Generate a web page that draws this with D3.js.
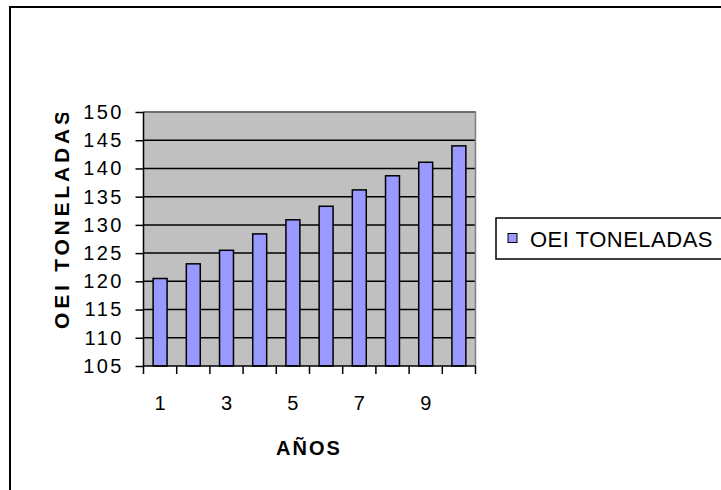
<!DOCTYPE html>
<html>
<head>
<meta charset="utf-8">
<script src="https://cdn.jsdelivr.net/npm/d3@7"></script>
<style>
html,body{margin:0;padding:0;background:#fff;}
svg{display:block;font-family:"Liberation Sans",Arial,sans-serif;}
</style>
</head>
<body>
<svg id="c" width="721" height="490"></svg>
<script>
const categories = [1,2,3,4,5,6,7,8,9,10];
const values = [120.5,123.1,125.5,128.4,130.9,133.3,136.2,138.7,141.1,144.0];
const yTicks = [105,110,115,120,125,130,135,140,145,150];
const xTickLabels = ["1","","3","","5","","7","","9",""];
const seriesName = "OEI TONELADAS";
const xTitle = "AÑOS";
const yTitle = "OEI TONELADAS";

const svg = d3.select("#c");
const L = 143.5, R = 475.5, T = 112, B = 366;

// outer frame
svg.append("rect").attr("x",10).attr("y",7).attr("width",730).attr("height",500)
  .attr("fill","#fff").attr("stroke","#000").attr("stroke-width",2);

const x = d3.scaleBand().domain(categories).range([L,R]).paddingInner(0.58).paddingOuter(0.29);
const xb = d3.scaleBand().domain(categories).range([L,R]);
const y = d3.scaleLinear().domain([105,150]).range([B,T]);

// plot background
svg.append("rect").attr("x",L).attr("y",T).attr("width",R-L).attr("height",B-T)
  .attr("fill","#C0C0C0");

// gridlines
svg.append("g").selectAll("line").data(yTicks.slice(1)).join("line")
  .attr("x1",L).attr("x2",R).attr("y1",d=>y(d)).attr("y2",d=>y(d))
  .attr("stroke","#000").attr("stroke-width",1.5);

// top/right border grey
svg.append("path").attr("d",`M${L},${T}H${R}V${B}`).attr("fill","none")
  .attr("stroke","#808080").attr("stroke-width",1.5);

// bars
svg.append("g").selectAll("rect").data(values).join("rect")
  .attr("x",(d,i)=>x(categories[i])).attr("width",x.bandwidth())
  .attr("y",d=>y(d)).attr("height",d=>B-y(d))
  .attr("fill","#9999FF").attr("stroke","#000").attr("stroke-width",1.5);

// y axis
const yAxis = d3.axisLeft(y).tickValues(yTicks).tickSize(8).tickPadding(14).tickFormat(d3.format("d"));
const gy = svg.append("g").attr("transform",`translate(${L},0)`).call(yAxis);
gy.select(".domain").attr("stroke","#000").attr("stroke-width",1.5).attr("d",`M0,${B}V${T}`);
gy.selectAll(".tick line").attr("stroke","#000").attr("stroke-width",1.5);
gy.selectAll(".tick text").attr("font-size",20).attr("fill","#000")
  .attr("font-family","Liberation Sans, Arial, sans-serif").attr("letter-spacing","2.5px").attr("dx","2.5px");

// x axis
const gx = svg.append("g").attr("transform",`translate(0,${B})`);
gx.append("line").attr("x1",L).attr("x2",R).attr("stroke","#000").attr("stroke-width",1.5);
const bounds = categories.map(c=>xb(c)).concat([R]);
gx.selectAll("line.t").data(bounds).join("line").attr("class","t")
  .attr("x1",d=>d).attr("x2",d=>d).attr("y1",0).attr("y2",8)
  .attr("stroke","#000").attr("stroke-width",1.5);
gx.selectAll("text").data(categories).join("text")
  .attr("x",d=>xb(d)+xb.bandwidth()/2).attr("y",44)
  .attr("text-anchor","middle").attr("font-size",20).attr("fill","#000")
  .text((d,i)=>xTickLabels[i]);

// x title
svg.append("text").attr("x",309).attr("y",455).attr("text-anchor","middle")
  .attr("font-size",20).attr("font-weight","bold").attr("letter-spacing","2px").text(xTitle);

// y title (clipped at top)
svg.append("clipPath").attr("id","yc").append("rect").attr("x",30).attr("y",113).attr("width",60).attr("height",300);
svg.append("g").attr("clip-path","url(#yc)").append("text")
  .attr("transform","translate(69,329) rotate(-90)")
  .attr("font-size",21).attr("font-weight","bold").attr("letter-spacing","3.8px").text(yTitle);

// legend
svg.append("rect").attr("x",496).attr("y",218).attr("width",260).attr("height",41)
  .attr("fill","#fff").attr("stroke","#000").attr("stroke-width",1.5);
svg.append("rect").attr("x",508).attr("y",233.5).attr("width",9).attr("height",9)
  .attr("fill","#9999FF").attr("stroke","#000").attr("stroke-width",1);
svg.append("text").attr("x",530).attr("y",247).attr("font-size",22).attr("letter-spacing","0.5px")
  .text(seriesName);
</script>
</body>
</html>
